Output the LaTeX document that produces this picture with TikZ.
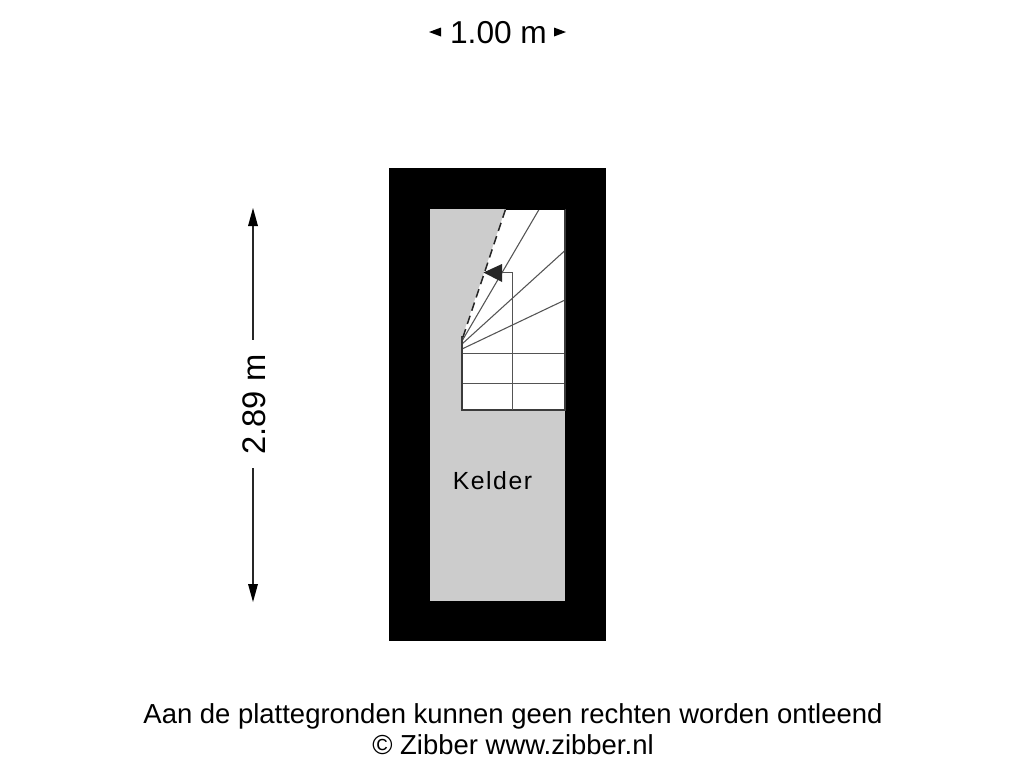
\documentclass[tikz,border=0pt]{standalone}
\usepackage{fontspec}
\setmainfont{Liberation Sans}
\definecolor{floorgrey}{gray}{0.8}
\definecolor{stairline}{gray}{0.33}
\definecolor{arrowdark}{gray}{0.15}
\tikzset{
  px/.style={x=0.75pt,y=-0.75pt},
  stairs/.style={draw=stairline,line width=0.8pt},
  outline/.style={draw=stairline!70!black,line width=0.95pt},
  dimline/.style={draw=black!85,line width=1.1pt},
  dimhead/.style={fill=black,draw=none},
  label/.style={inner sep=0pt,text=black}
}
\begin{document}
\begin{tikzpicture}[px]
\useasboundingbox (0,0) rectangle (1024,768);
\fill[white] (0,0) rectangle (1024,768);
% walls and floor
\fill[black] (389,168) rectangle (606,641);
\fill[floorgrey] (430,209) rectangle (565,601);
% stair well
\fill[white] (505.5,209) -- (565,209) -- (565,410) -- (462,410) -- (462,338) -- cycle;
% winders
\draw[stairs] (462,341) -- (539,209.5);
\draw[stairs] (462,344) -- (565,250.5);
\draw[stairs] (462,349) -- (565,300);
\draw[stairs] (462,353.5) -- (565,353.5);
\draw[stairs] (462,383.4) -- (565,383.4);
% outline
\draw[outline] (462,336) -- (462,410) -- (565,410) -- (565,209);
\draw[black,line width=0.9pt] (505.5,209) -- (565,209);
\draw[black!85,line width=1.15pt,dash pattern=on 6.5pt off 4pt] (505.5,209.5) -- (462,340);
% walking line
\draw[stairs] (512.5,410) -- (512.5,272.5) -- (500,272.5);
\fill[arrowdark] (483.5,272.5) -- (502,264) -- (502,282) -- cycle;
% horizontal dimension
\node[label,font=\fontsize{23.75pt}{26pt}\selectfont,anchor=base] (wlabel) at (498.5,43) {1.00 m};
\fill[dimhead] (429,32) -- (441,27.5) -- (441,36.5) -- cycle;
\fill[dimhead] (566,32) -- (554,27.5) -- (554,36.5) -- cycle;
% vertical dimension
\coordinate (vtop) at (253,208);
\coordinate (vbot) at (253,602);
\node[label,font=\fontsize{24.5pt}{26pt}\selectfont,rotate=90,anchor=base] (hlabel) at (265.5,404.5) {2.89 m};
\draw[dimline] (253,224) -- (253,340);
\draw[dimline] (253,468) -- (253,586);
\fill[dimhead] (vtop) -- (248,226) -- (258,226) -- cycle;
\fill[dimhead] (vbot) -- (248,584) -- (258,584) -- cycle;
% texts
\node[label,font=\fontsize{18.6pt}{20pt}\selectfont,anchor=base] (room) at (492.5,489.5) {\addfontfeature{LetterSpace=6}Kelder};
\node[label,font=\fontsize{20.6pt}{24pt}\selectfont,anchor=base] (note) at (513,723.7) {Aan de plattegronden kunnen geen rechten worden ontleend};
\node[label,font=\fontsize{20.6pt}{24pt}\selectfont,anchor=base] (copy) at (513,754) {© Zibber www.zibber.nl};
\end{tikzpicture}
\end{document}
